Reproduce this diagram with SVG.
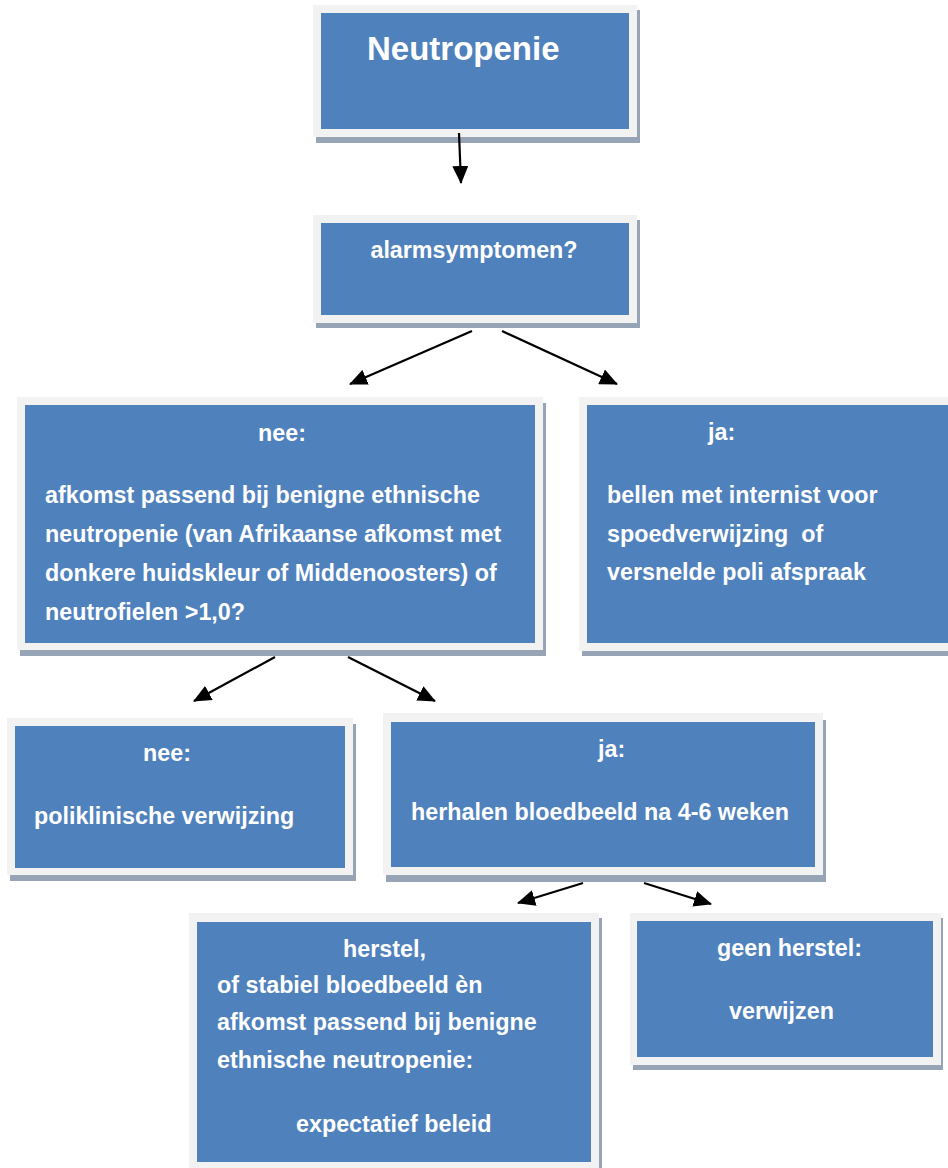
<svg xmlns="http://www.w3.org/2000/svg" width="948" height="1168" viewBox="0 0 948 1168">
<style>
.sh{fill:#97a4b6}
.fr{fill:#f2f2f2}
.in{fill:#4f81bd}
.t{font-family:"Liberation Sans",Arial,sans-serif;font-weight:bold;font-size:23.3px;fill:#ffffff}
.big{font-size:33px}
.c{stroke:#000;stroke-width:2.2;fill:none;marker-end:url(#ah)}
</style>
<defs>
<marker id="ah" markerUnits="userSpaceOnUse" markerWidth="18" markerHeight="16" refX="17" refY="8" orient="auto">
<path d="M0,0 L18,8 L0,16 z" fill="#000"/>
</marker>
</defs>
<rect width="948" height="1168" fill="#ffffff"/>
<g id="node-neutropenie">
<rect class="sh" x="316" y="10" width="324" height="133"/>
<rect class="fr" x="313" y="5" width="324" height="132"/>
<rect class="in" x="321" y="13" width="308" height="116"/>
<text class="t big" x="367" y="60">Neutropenie</text>
</g>
<g id="node-alarm">
<rect class="sh" x="316" y="220" width="324" height="108"/>
<rect class="fr" x="313" y="215" width="324" height="108"/>
<rect class="in" x="321" y="223" width="308" height="92"/>
<text class="t" x="474" y="258" text-anchor="middle">alarmsymptomen?</text>
</g>
<g id="node-nee1">
<rect class="sh" x="20" y="403" width="526" height="253"/>
<rect class="fr" x="17" y="397" width="526" height="253"/>
<rect class="in" x="25" y="405" width="510" height="238"/>
<text class="t" x="258" y="441">nee:</text>
<text class="t" x="45" y="503">afkomst passend bij benigne ethnische</text>
<text class="t" x="45" y="542">neutropenie (van Afrikaanse afkomst met</text>
<text class="t" x="45" y="581">donkere huidskleur of Middenoosters) of</text>
<text class="t" x="45" y="620">neutrofielen &gt;1,0?</text>
</g>
<g id="node-ja1">
<rect class="sh" x="582" y="403" width="380" height="253"/>
<rect class="fr" x="579" y="397" width="380" height="254"/>
<rect class="in" x="587" y="405" width="370" height="238"/>
<text class="t" x="708" y="440">ja:</text>
<text class="t" x="607" y="503">bellen met internist voor</text>
<text class="t" x="607" y="542" xml:space="preserve">spoedverwijzing  of</text>
<text class="t" x="607" y="580">versnelde poli afspraak</text>
</g>
<g id="node-nee2">
<rect class="sh" x="10" y="724" width="346" height="157"/>
<rect class="fr" x="7" y="718" width="346" height="157"/>
<rect class="in" x="15" y="726" width="330" height="142"/>
<text class="t" x="143" y="761">nee:</text>
<text class="t" x="34" y="824">poliklinische verwijzing</text>
</g>
<g id="node-ja2">
<rect class="sh" x="386" y="720" width="440" height="162"/>
<rect class="fr" x="383" y="713" width="440" height="162"/>
<rect class="in" x="391" y="722" width="424" height="145"/>
<text class="t" x="598" y="757">ja:</text>
<text class="t" x="411" y="820">herhalen bloedbeeld na 4-6 weken</text>
</g>
<g id="node-herstel">
<rect class="sh" x="192" y="918" width="410" height="260"/>
<rect class="fr" x="189" y="913" width="410" height="260"/>
<rect class="in" x="197" y="922" width="394" height="240"/>
<text class="t" x="343" y="957">herstel,</text>
<text class="t" x="217" y="993">of stabiel bloedbeeld èn</text>
<text class="t" x="217" y="1030">afkomst passend bij benigne</text>
<text class="t" x="217" y="1068">ethnische neutropenie:</text>
<text class="t" x="296" y="1132">expectatief beleid</text>
</g>
<g id="node-geenherstel">
<rect class="sh" x="633" y="918" width="310" height="152"/>
<rect class="fr" x="630" y="913" width="311" height="152"/>
<rect class="in" x="637" y="921" width="296" height="136"/>
<text class="t" x="717" y="956">geen herstel:</text>
<text class="t" x="729" y="1019">verwijzen</text>
</g>
<g id="connectors">
<line class="c" x1="459" y1="133" x2="461" y2="183"/>
<line class="c" x1="472" y1="331" x2="350" y2="384"/>
<line class="c" x1="502" y1="331" x2="617" y2="384"/>
<line class="c" x1="275" y1="657" x2="194" y2="701"/>
<line class="c" x1="348" y1="657" x2="435" y2="701"/>
<line class="c" x1="583" y1="883" x2="518" y2="903"/>
<line class="c" x1="644" y1="883" x2="711" y2="904"/>
</g>
</svg>
